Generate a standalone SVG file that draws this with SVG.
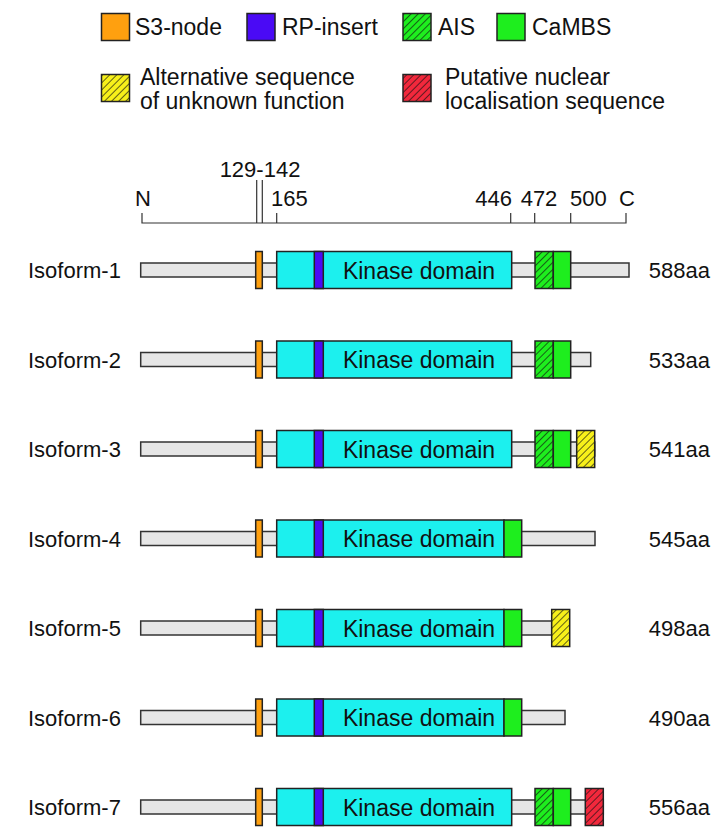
<svg xmlns="http://www.w3.org/2000/svg" width="720" height="831" viewBox="0 0 720 831">
<style>
text{font-family:"Liberation Sans",Arial,Helvetica,sans-serif;font-size:22px;fill:#111}
.lg{font-size:23px}
.bar{fill:#e6e6e6;stroke:#333;stroke-width:1.5}
.box{stroke:#222;stroke-width:1.5}
.s3{fill:#ffa00f}
.kin{fill:#1cf0ee}
.rp{fill:#4a0af5}
.cam{fill:#1eee1e}
.ais{fill:url(#hGreen)}
.alt{fill:url(#hYellow)}
.nls{fill:url(#hRed)}
.ax{stroke:#333;stroke-width:1.2;fill:none}
.mid{text-anchor:middle}
.end{text-anchor:end}
.kd{font-size:23px;text-anchor:middle}
</style>
<defs>
<pattern id="hGreen" patternUnits="userSpaceOnUse" width="5" height="10" patternTransform="rotate(45)"><rect width="5" height="10" fill="#1eee1e"/><line x1="0" y1="0" x2="0" y2="10" stroke="#111" stroke-width="1.3"/></pattern>
<pattern id="hYellow" patternUnits="userSpaceOnUse" width="5" height="10" patternTransform="rotate(45)"><rect width="5" height="10" fill="#f7f01a"/><line x1="0" y1="0" x2="0" y2="10" stroke="#111" stroke-width="1.3"/></pattern>
<pattern id="hRed" patternUnits="userSpaceOnUse" width="5" height="10" patternTransform="rotate(45)"><rect width="5" height="10" fill="#f2283c"/><line x1="0" y1="0" x2="0" y2="10" stroke="#111" stroke-width="1.3"/></pattern>
</defs>
<rect width="720" height="831" fill="#fff"/>

<g id="legend">
<g id="leg-s3"><rect class="box s3" x="101.5" y="13.5" width="28" height="27"/><text class="lg" x="135" y="35">S3-node</text></g>
<g id="leg-rp"><rect class="box rp" x="247" y="13.5" width="28" height="27"/><text class="lg" x="282" y="35">RP-insert</text></g>
<g id="leg-ais"><rect class="box ais" x="403" y="13.5" width="28" height="27"/><text class="lg" x="438" y="35">AIS</text></g>
<g id="leg-cambs"><rect class="box cam" x="497" y="13.5" width="28" height="27"/><text class="lg" x="532" y="35">CaMBS</text></g>
<g id="leg-alt"><rect class="box alt" x="101.5" y="74.5" width="28" height="27"/><text class="lg" x="140" y="85">Alternative sequence</text><text class="lg" x="140" y="109">of unknown function</text></g>
<g id="leg-nls"><rect class="box nls" x="403" y="74.5" width="28" height="27"/><text class="lg" x="445" y="85">Putative nuclear</text><text class="lg" x="445" y="109">localisation sequence</text></g>
</g>

<g id="axis">
<path class="ax" d="M142,213V223H626V213M256.7,180V223M262.3,180V223M276.7,213V223M510.7,213V223M534.7,213V223M570.7,213V223"/>
<text class="mid" x="143" y="206">N</text>
<text class="mid" x="260" y="177">129-142</text>
<text x="271" y="206">165</text>
<text class="end" x="512" y="206">446</text>
<text class="mid" x="539" y="206">472</text>
<text x="570" y="206">500</text>
<text class="mid" x="627" y="206">C</text>
</g>

<g id="isoform-1" transform="translate(0,270)">
<text x="28" y="8">Isoform-1</text>
<rect class="bar" x="140.7" y="-7" width="488.3" height="14"/>
<rect class="box s3" x="255.7" y="-18.5" width="6.6" height="37"/>
<rect class="box kin" x="276.7" y="-18.5" width="235" height="37"/>
<rect class="box rp" x="314.3" y="-18.5" width="9" height="37"/>
<text class="kd" x="419" y="8.5">Kinase domain</text>
<rect class="box ais" x="535" y="-18.5" width="18.3" height="37"/>
<rect class="box cam" x="553.3" y="-18.5" width="17.4" height="37"/>
<text class="end" x="710" y="8">588aa</text>
</g>

<g id="isoform-2" transform="translate(0,359.5)">
<text x="28" y="8">Isoform-2</text>
<rect class="bar" x="140.7" y="-7" width="450" height="14"/>
<rect class="box s3" x="255.7" y="-18.5" width="6.6" height="37"/>
<rect class="box kin" x="276.7" y="-18.5" width="235" height="37"/>
<rect class="box rp" x="314.3" y="-18.5" width="9" height="37"/>
<text class="kd" x="419" y="8.5">Kinase domain</text>
<rect class="box ais" x="535" y="-18.5" width="18.3" height="37"/>
<rect class="box cam" x="553.3" y="-18.5" width="17.4" height="37"/>
<text class="end" x="710" y="8">533aa</text>
</g>

<g id="isoform-3" transform="translate(0,449)">
<text x="28" y="8">Isoform-3</text>
<rect class="bar" x="140.7" y="-7" width="454" height="14"/>
<rect class="box s3" x="255.7" y="-18.5" width="6.6" height="37"/>
<rect class="box kin" x="276.7" y="-18.5" width="235" height="37"/>
<rect class="box rp" x="314.3" y="-18.5" width="9" height="37"/>
<text class="kd" x="419" y="8.5">Kinase domain</text>
<rect class="box ais" x="535" y="-18.5" width="18.3" height="37"/>
<rect class="box cam" x="553.3" y="-18.5" width="17.4" height="37"/>
<rect class="box alt" x="576.7" y="-18.5" width="18" height="37"/>
<text class="end" x="710" y="8">541aa</text>
</g>

<g id="isoform-4" transform="translate(0,538.5)">
<text x="28" y="8">Isoform-4</text>
<rect class="bar" x="140.7" y="-7" width="454.3" height="14"/>
<rect class="box s3" x="255.7" y="-18.5" width="6.6" height="37"/>
<rect class="box kin" x="276.7" y="-18.5" width="227.3" height="37"/>
<rect class="box rp" x="314.3" y="-18.5" width="9" height="37"/>
<text class="kd" x="419" y="8.5">Kinase domain</text>
<rect class="box cam" x="504" y="-18.5" width="17.7" height="37"/>
<text class="end" x="710" y="8">545aa</text>
</g>

<g id="isoform-5" transform="translate(0,628)">
<text x="28" y="8">Isoform-5</text>
<rect class="bar" x="140.7" y="-7" width="411" height="14"/>
<rect class="box s3" x="255.7" y="-18.5" width="6.6" height="37"/>
<rect class="box kin" x="276.7" y="-18.5" width="227.3" height="37"/>
<rect class="box rp" x="314.3" y="-18.5" width="9" height="37"/>
<text class="kd" x="419" y="8.5">Kinase domain</text>
<rect class="box cam" x="504" y="-18.5" width="17.7" height="37"/>
<rect class="box alt" x="551.7" y="-18.5" width="18" height="37"/>
<text class="end" x="710" y="8">498aa</text>
</g>

<g id="isoform-6" transform="translate(0,717.5)">
<text x="28" y="8">Isoform-6</text>
<rect class="bar" x="140.7" y="-7" width="424.3" height="14"/>
<rect class="box s3" x="255.7" y="-18.5" width="6.6" height="37"/>
<rect class="box kin" x="276.7" y="-18.5" width="227.3" height="37"/>
<rect class="box rp" x="314.3" y="-18.5" width="9" height="37"/>
<text class="kd" x="419" y="8.5">Kinase domain</text>
<rect class="box cam" x="504" y="-18.5" width="17.7" height="37"/>
<text class="end" x="710" y="8">490aa</text>
</g>

<g id="isoform-7" transform="translate(0,807)">
<text x="28" y="8">Isoform-7</text>
<rect class="bar" x="140.7" y="-7" width="462.6" height="14"/>
<rect class="box s3" x="255.7" y="-18.5" width="6.6" height="37"/>
<rect class="box kin" x="276.7" y="-18.5" width="235" height="37"/>
<rect class="box rp" x="314.3" y="-18.5" width="9" height="37"/>
<text class="kd" x="419" y="8.5">Kinase domain</text>
<rect class="box ais" x="535" y="-18.5" width="18.3" height="37"/>
<rect class="box cam" x="553.3" y="-18.5" width="17.4" height="37"/>
<rect class="box nls" x="585.3" y="-18.5" width="18" height="37"/>
<text class="end" x="710" y="8">556aa</text>
</g>
</svg>
